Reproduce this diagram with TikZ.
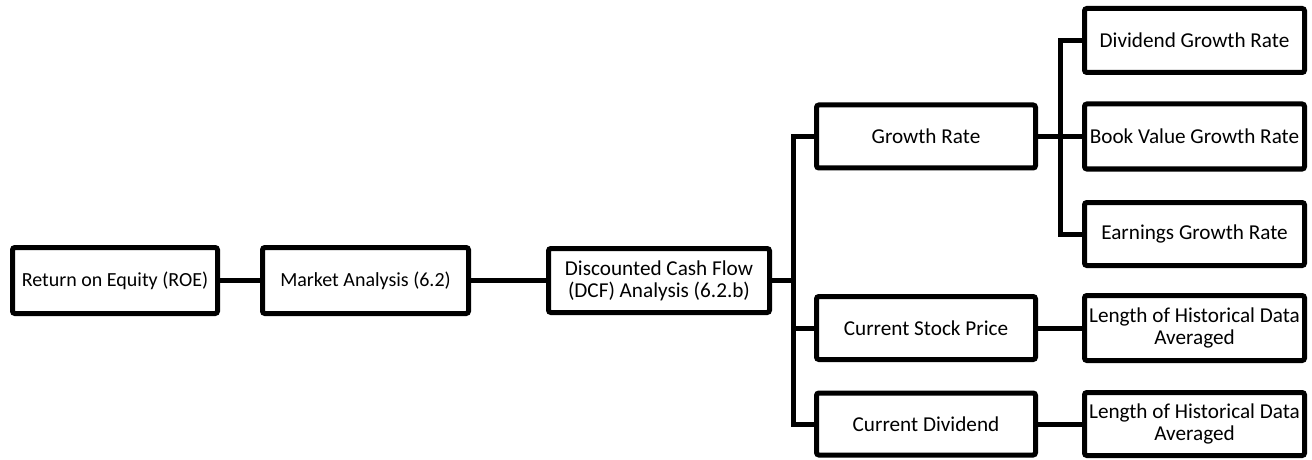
\documentclass[tikz,border=0pt]{standalone}
\usepackage{fontspec}
\setmainfont{Carlito}
\begin{document}
\begin{tikzpicture}[x=0.5pt,y=-0.5pt,
  box/.style={draw=black, line width=2.5pt, rounded corners=1.2pt, fill=white,
    inner sep=0pt, align=center, font=\fontsize{10.6}{10.9}\selectfont,
    minimum width=#1*0.5pt},
  box/.default=220,
  small/.style={font=\fontsize{10}{10.9}\selectfont},
  conn/.style={draw=black, line width=2.5pt}]
\useasboundingbox (0,0) rectangle (1312,460);
% nodes
\node[box=205, small, minimum height=33pt] (roe) at (115,280.5) {Return on Equity (ROE)};
\node[box=206, small, minimum height=33pt] (mkt) at (365.5,280.5) {Market Analysis (6.2)};
\node[box=221, minimum height=32pt] (dcf) at (659,280.5) {Discounted Cash Flow\\(DCF) Analysis (6.2.b)};
\node[box=219, minimum height=31.5pt] (gr) at (926,136.5) {Growth Rate};
\node[box=219, minimum height=31.5pt] (csp) at (926,328) {Current Stock Price};
\node[box=219, minimum height=31pt] (cd) at (926,424) {Current Dividend};
\node[box=220, minimum height=32pt] (dgr) at (1194.5,40.5) {Dividend Growth Rate};
\node[box=220, minimum height=32.5pt] (bvgr) at (1194.5,136.5) {Book Value Growth Rate};
\node[box=220, minimum height=31.5pt] (egr) at (1194.5,234) {Earnings Growth Rate};
\node[box=220, minimum height=32.5pt] (l1) at (1194.5,328) {Length of Historical Data\\Averaged};
\node[box=220, minimum height=31.5pt] (l2) at (1194.5,424) {Length of Historical Data\\Averaged};
% junction coordinates
\coordinate (j1) at (793,280.5);
\coordinate (j2) at (1060,136.5);
% connectors
\draw[conn] (roe.east) -- (mkt.west);
\draw[conn] (mkt.east) -- (dcf.west);
\draw[conn] (dcf.east) -- (j1);
\draw[conn] (gr.west) -- (gr.west -| j1) |- (cd.west);
\draw[conn] (csp.west) -- (csp.west -| j1);
\draw[conn] (gr.east) -- (j2);
\draw[conn] (dgr.west) -- (dgr.west -| j2) |- (egr.west);
\draw[conn] (bvgr.west) -- (bvgr.west -| j2);
\draw[conn] (csp.east) -- (l1.west);
\draw[conn] (cd.east) -- (l2.west);
\end{tikzpicture}
\end{document}
